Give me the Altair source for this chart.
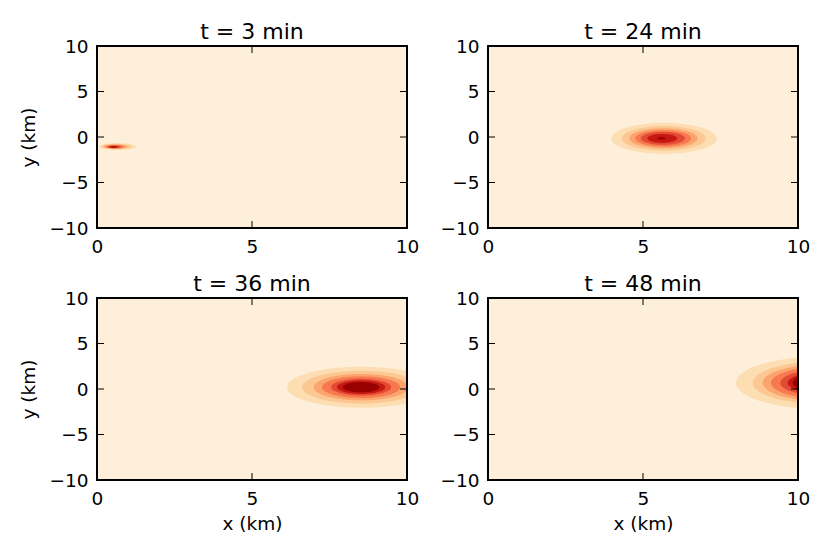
import altair as alt
import numpy as np
import pandas as pd

# ---------------- data ----------------
TITLES = ["t = 3 min", "t = 24 min", "t = 36 min", "t = 48 min"]
X_TICKS = [0, 5, 10]
Y_TICKS = [-10, -5, 0, 5, 10]
# OrRd contour band colours (lowest band = background, then 7 nested bands)
BAND_COLORS = ["#feefda", "#fddeb3", "#fdc791", "#fca46e",
               "#f67950", "#e34a33", "#c51810", "#990000"]

# contour ellipses, outer -> inner (km)
CX_3 = [0.66, 0.63, 0.60, 0.58, 0.56, 0.54, 0.53]
CY_3 = [-1.05, -1.05, -1.06, -1.07, -1.08, -1.09, -1.10]
RX_3 = [0.60, 0.48, 0.38, 0.30, 0.22, 0.15, 0.07]
RY_3 = [0.38, 0.30, 0.24, 0.19, 0.14, 0.10, 0.05]

CX_24 = [5.68, 5.67, 5.66, 5.65, 5.64, 5.62, 5.60]
CY_24 = [-0.15, -0.15, -0.15, -0.15, -0.15, -0.15, -0.15]
RX_24 = [1.70, 1.35, 1.10, 0.90, 0.71, 0.48, 0.13]
RY_24 = [1.70, 1.35, 1.10, 0.90, 0.71, 0.48, 0.13]

CX_36 = [8.52, 8.52, 8.52, 8.52, 8.52, 8.52, 8.52]
CY_36 = [0.20, 0.20, 0.20, 0.20, 0.20, 0.20, 0.20]
RX_36 = [2.39, 1.90, 1.53, 1.26, 0.97, 0.78, 0.59]
RY_36 = [2.25, 1.80, 1.45, 1.19, 0.92, 0.74, 0.56]

CX_48 = [10.8, 10.8, 10.8, 10.8, 10.8, 10.8, 10.8]
CY_48 = [0.68, 0.68, 0.68, 0.68, 0.68, 0.68, 0.68]
RX_48 = [2.80, 2.26, 1.94, 1.67, 1.37, 1.13, 0.97]
RY_48 = [2.90, 2.34, 2.01, 1.73, 1.42, 1.17, 1.00]

PANELS = [(CX_3, CY_3, RX_3, RY_3), (CX_24, CY_24, RX_24, RY_24),
          (CX_36, CY_36, RX_36, RY_36), (CX_48, CY_48, RX_48, RY_48)]

W, H = 310, 182
FONT = "DejaVu Sans"
TICK_LEN = 7


def ellipse_table(cx, cy, rx, ry, k):
    th = np.linspace(np.pi, 0, 91)
    return pd.DataFrame({
        "x": cx[k] + rx[k] * np.cos(th),
        "lo": cy[k] - ry[k] * np.sin(th),
        "hi": cy[k] + ry[k] * np.sin(th),
    })


def panel(i, x_title, y_title):
    cx, cy, rx, ry = PANELS[i]
    xs = alt.Scale(domain=[0, 10], nice=False, zero=False)
    ys = alt.Scale(domain=[-10, 10], nice=False, zero=False)
    xaxis = alt.Axis(values=X_TICKS, title=x_title, format="d")
    yaxis = alt.Axis(values=Y_TICKS, title=y_title, format="d")

    layers = []
    for k in range(len(cx)):
        df = ellipse_table(cx, cy, rx, ry, k)
        layers.append(
            alt.Chart(df)
            .mark_area(clip=True, color=BAND_COLORS[k + 1], opacity=1,
                       orient="vertical")
            .encode(
                x=alt.X("x:Q", scale=xs, axis=xaxis),
                y=alt.Y("lo:Q", scale=ys, axis=yaxis, stack=None),
                y2=alt.Y2("hi"),
            )
        )

    xt = pd.DataFrame({"v": X_TICKS})
    yt = pd.DataFrame({"v": Y_TICKS})
    tick = dict(color="black", strokeWidth=1)
    bottom = alt.Chart(xt).mark_rule(**tick).encode(
        x=alt.X("v:Q", scale=xs, axis=xaxis), y=alt.value(H), y2=alt.value(H - TICK_LEN))
    top = alt.Chart(xt).mark_rule(**tick).encode(
        x=alt.X("v:Q", scale=xs, axis=xaxis), y=alt.value(0), y2=alt.value(TICK_LEN))
    left = alt.Chart(yt).mark_rule(**tick).encode(
        y=alt.Y("v:Q", scale=ys, axis=yaxis), x=alt.value(0), x2=alt.value(TICK_LEN))
    right = alt.Chart(yt).mark_rule(**tick).encode(
        y=alt.Y("v:Q", scale=ys, axis=yaxis), x=alt.value(W), x2=alt.value(W - TICK_LEN))
    frame = alt.Chart(xt.head(1)).mark_rect(
        fillOpacity=0, stroke="black", strokeWidth=2
    ).encode(x=alt.value(0), x2=alt.value(W), y=alt.value(0), y2=alt.value(H))

    return alt.layer(*layers, bottom, top, left, right, frame).properties(
        width=W, height=H,
        title=alt.TitleParams(TITLES[i], fontSize=22, font=FONT,
                              fontWeight="normal", offset=-7, color="black"),
    )


p1 = panel(0, None, "y (km)")
p2 = panel(1, None, None)
p3 = panel(2, "x (km)", "y (km)")
p4 = panel(3, "x (km)", None)

chart = alt.vconcat(
    alt.hconcat(p1, p2, spacing=20),
    alt.hconcat(p3, p4, spacing=20),
    spacing=17,
).properties(
    padding={"left": 11, "top": 13, "right": 5, "bottom": 5}
).configure_view(
    fill=BAND_COLORS[0], stroke=None
).configure_axis(
    labelFont=FONT, labelFontSize=18.5, labelColor="black",
    titleFont=FONT, titleFontSize=18.5, titleFontWeight="normal", titleColor="black",
    ticks=False, domain=False, grid=False, labelPadding=9,
    labelFlush=False, labelOverlap=False,
).configure_axisY(titlePadding=10).configure_axisX(titlePadding=7)

chart.save("out.html", embed_options={"renderer": "svg", "actions": False})
